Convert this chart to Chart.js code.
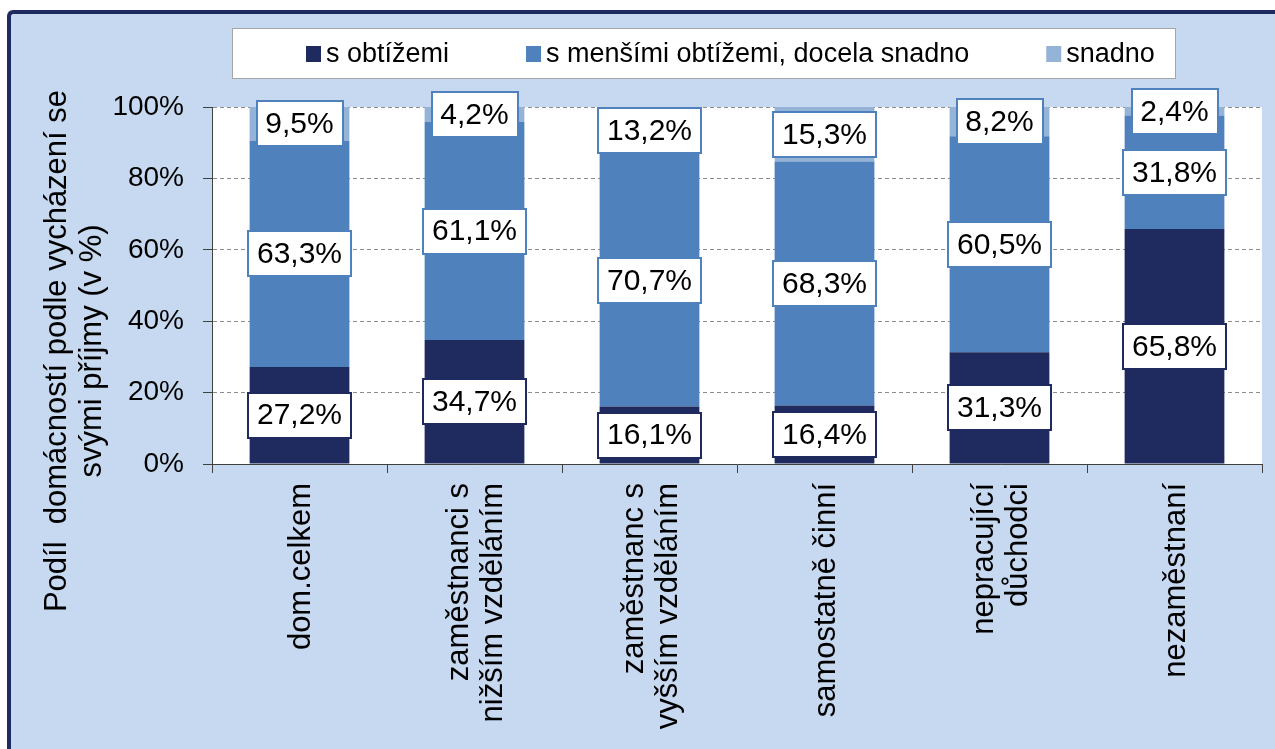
<!DOCTYPE html>
<html>
<head>
<meta charset="utf-8">
<script src="https://cdn.jsdelivr.net/npm/chart.js@4.4.1/dist/chart.umd.min.js"></script>
<style>
  html, body { margin: 0; padding: 0; background: #fff; overflow: hidden; }
  #frame {
    position: absolute; left: 7px; top: 10px; width: 1300px; height: 780px;
    background: #C6D9F0;
    border-left: 4px solid #1F2A5E; border-top: 4px solid #1F2A5E;
    border-top-left-radius: 6px;
  }
  #wrap { position: absolute; left: 0; top: 0; width: 1275px; height: 749px; }
</style>
</head>
<body>
<div id="frame"></div>
<div id="wrap"><canvas id="chart" width="1275" height="749"></canvas></div>
<script>
/* ---------- DATA ---------- */
const categories = [
  ["dom.celkem"],
  ["zaměstnanci s", "nižším vzděláním"],
  ["zaměstnanc s", "vyšším vzděláním"],
  ["samostatně činní"],
  ["nepracující", "důchodci"],
  ["nezaměstnaní"]
];
const sObtizemi = [27.2, 34.7, 16.1, 16.4, 31.3, 65.8];
const sMensimiObtizemi = [63.3, 61.1, 70.7, 68.3, 60.5, 31.8];
const snadno = [9.5, 4.2, 13.2, 15.3, 8.2, 2.4];
const seriesNames = ["s obtížemi", "s menšími obtížemi, docela snadno", "snadno"];
const yTicks = [0, 20, 40, 60, 80, 100];
const yTitleLines = ["Podíl  domácností podle vycházení se", "svými příjmy (v %)"];

/* ---------- STYLE ---------- */
const seriesColors = ["#1F2A5E", "#4F81BD", "#95B3D7"];
const boxBorders = ["#1F2A5E", "#4F81BD", "#4F81BD"];
const FONT = '"Liberation Sans", Arial, sans-serif';
Chart.defaults.font.family = FONT;

const fmt = v => v.toFixed(1).replace(".", ",") + "%";

/* ---------- PLUGINS ---------- */
const plotBg = {
  id: "plotBg",
  beforeDraw(chart) {
    const { ctx, chartArea: a } = chart;
    ctx.save();
    ctx.fillStyle = "#fff";
    ctx.fillRect(a.left, a.top, a.right - a.left, a.bottom - a.top);
    ctx.restore();
  }
};

const valueBoxes = {
  id: "valueBoxes",
  afterDatasetsDraw(chart) {
    const ctx = chart.ctx;
    ctx.save();
    ctx.font = "30px " + FONT;
    ctx.textAlign = "center";
    ctx.textBaseline = "middle";
    chart.data.datasets.forEach((ds, di) => {
      chart.getDatasetMeta(di).data.forEach((bar, i) => {
        const { x, y, base } = bar.getProps(["x", "y", "base"], true);
        const cy = (y + base) / 2;
        const txt = fmt(ds.data[i]);
        const w = Math.round(ctx.measureText(txt).width + 18), h = 45;
        const bx = Math.round(x - w / 2), by = Math.round(cy - h / 2);
        ctx.fillStyle = "#fff";
        ctx.fillRect(bx, by, w, h);
        ctx.lineWidth = 2;
        ctx.strokeStyle = boxBorders[di];
        ctx.strokeRect(bx, by, w, h);
        ctx.fillStyle = "#000";
        ctx.fillText(txt, x, cy + 1);
      });
    });
    ctx.restore();
  }
};

const legendBox = {
  id: "legendBox",
  afterDraw(chart) {
    const ctx = chart.ctx;
    ctx.save();
    ctx.fillStyle = "#fff";
    ctx.fillRect(232, 28, 943, 50);
    ctx.strokeStyle = "#A6A6A6";
    ctx.lineWidth = 1;
    ctx.strokeRect(232.5, 28.5, 943, 50);
    ctx.font = "27px " + FONT;
    ctx.textBaseline = "alphabetic";
    let x = 306;
    chart.data.datasets.forEach(ds => {
      ctx.fillStyle = ds.backgroundColor;
      ctx.fillRect(x, 46, 15, 16);
      ctx.fillStyle = "#000";
      ctx.fillText(ds.label, x + 20, 62);
      x += 20 + ctx.measureText(ds.label).width + 77;
    });
    ctx.restore();
  }
};

const axisTexts = {
  id: "axisTexts",
  afterDraw(chart) {
    const ctx = chart.ctx;
    const xs = chart.scales.x;
    ctx.save();
    ctx.fillStyle = "#000";
    ctx.font = "31px " + FONT;
    ctx.textBaseline = "middle";

    // category labels, rotated, centred on each bar
    ctx.textAlign = "right";
    chart.data.labels.forEach((lines, i) => {
      const px = xs.getPixelForTick(i);
      lines.forEach((ln, j) => {
        const lx = px + 2 + (j - (lines.length - 1) / 2) * 34;
        ctx.save();
        ctx.translate(lx, xs.top + 19);
        ctx.rotate(-Math.PI / 2);
        ctx.fillText(ln, 0, 0);
        ctx.restore();
      });
    });

    // y axis title
    ctx.textAlign = "center";
    yTitleLines.forEach((ln, j) => {
      ctx.save();
      ctx.translate(57 + j * 35, 351);
      ctx.rotate(-Math.PI / 2);
      ctx.fillText(ln, 0, 0);
      ctx.restore();
    });
    ctx.restore();
  }
};

/* ---------- CHART ---------- */
const ctx = document.getElementById("chart").getContext("2d");
new Chart(ctx, {
  type: "bar",
  data: {
    labels: categories,
    datasets: [
      { label: seriesNames[0], data: sObtizemi, backgroundColor: seriesColors[0] },
      { label: seriesNames[1], data: sMensimiObtizemi, backgroundColor: seriesColors[1] },
      { label: seriesNames[2], data: snadno, backgroundColor: seriesColors[2] }
    ]
  },
  options: {
    responsive: false,
    animation: false,
    devicePixelRatio: 1,
    barPercentage: 0.57,
    categoryPercentage: 1,
    layout: { padding: { top: 107, right: 13, left: 0, bottom: 0 } },
    plugins: {
      legend: { display: false },
      tooltip: { enabled: false },
      title: { display: false }
    },
    scales: {
      x: {
        stacked: true,
        grid: {
          offset: true, drawOnChartArea: false, drawTicks: true,
          tickLength: 9, tickColor: "#404040", color: "#404040"
        },
        border: { display: true, color: "#404040", width: 1 },
        ticks: { display: false },
        afterFit(scale) { scale.height = 285; }
      },
      y: {
        stacked: true,
        min: yTicks[0],
        max: yTicks[yTicks.length - 1],
        afterBuildTicks(scale) { scale.ticks = yTicks.map(v => ({ value: v })); },
        ticks: {
          padding: 19,
          color: "#000",
          font: { size: 28 },
          callback: v => v + "%"
        },
        grid: {
          color: "#8C8C8C", lineWidth: 1,
          tickLength: 9, tickColor: "#404040", tickBorderDash: []
        },
        border: { display: true, color: "#404040", width: 1, dash: [4, 3] },
        afterFit(scale) { scale.width = 212; }
      }
    }
  },
  plugins: [plotBg, valueBoxes, legendBox, axisTexts]
});
</script>
</body>
</html>
